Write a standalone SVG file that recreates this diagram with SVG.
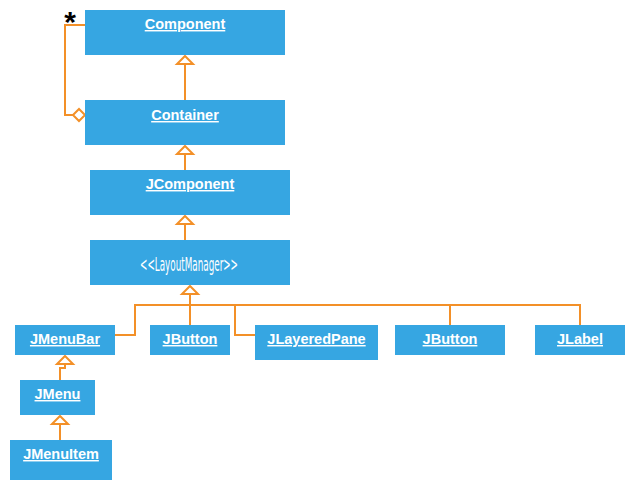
<svg xmlns="http://www.w3.org/2000/svg" width="634" height="490" viewBox="0 0 634 490">
<defs>
<style>
.box{fill:#36A6E2;}
.lbl{font-family:"Liberation Sans",Arial,sans-serif;font-weight:bold;font-size:14.5px;fill:#fff;text-decoration:underline;text-anchor:middle;}
.stereo{font-family:"Liberation Sans Narrow","DejaVu Sans Condensed",sans-serif;font-size:19px;fill:#fff;text-anchor:middle;}
.ln{fill:none;stroke:#F39028;stroke-width:2;}
.tri{fill:#fff;stroke:#F39028;stroke-width:2;}
</style>
</defs>
<rect width="634" height="490" fill="#fff"/>
<g id="connectors">
<path class="ln" d="M85,25 H65 V115 H73"/>
<path class="tri" d="M73,115 L79,109 L85,115 L79,121 Z"/>
<path class="ln" d="M185,100 V64"/>
<path class="tri" d="M185,56 L193,64 H177 Z"/>
<path class="ln" d="M185,170 V154"/>
<path class="tri" d="M185,146 L193,154 H177 Z"/>
<path class="ln" d="M185,240 V224"/>
<path class="tri" d="M185,216 L193,224 H177 Z"/>
<path class="ln" d="M190,325 V294"/>
<path class="tri" d="M190,286 L198,294 H182 Z"/>
<path class="ln" d="M115,335 H135 V305 H580 V325"/>
<path class="ln" d="M235,305 V335 H255"/>
<path class="ln" d="M450,305 V325"/>
<path class="ln" d="M60,380 V368 H65 V364"/>
<path class="tri" d="M65,356 L73,364 H57 Z"/>
<path class="ln" d="M60,440 V424"/>
<path class="tri" d="M60,416 L68,424 H52 Z"/>
<text x="70" y="31.5" font-family="Liberation Sans,Arial,sans-serif" font-weight="bold" font-size="30" text-anchor="middle" fill="#000">*</text>
</g>
<g id="component"><rect class="box" x="85" y="10" width="200" height="45"/><text class="lbl" x="185" y="29">Component</text></g>
<g id="container"><rect class="box" x="85" y="100" width="200" height="45"/><text class="lbl" x="185" y="120">Container</text></g>
<g id="jcomponent"><rect class="box" x="90" y="170" width="200" height="45"/><text class="lbl" x="190" y="189">JComponent</text></g>
<g id="layoutmanager"><rect class="box" x="90" y="240" width="200" height="45"/><text class="stereo" x="189" y="270.5" textLength="98" lengthAdjust="spacingAndGlyphs">&lt;&lt;LayoutManager&gt;&gt;</text></g>
<g id="jmenubar"><rect class="box" x="15" y="325" width="100" height="30"/><text class="lbl" x="65" y="344">JMenuBar</text></g>
<g id="jbutton1"><rect class="box" x="150" y="325" width="80" height="30"/><text class="lbl" x="190" y="344">JButton</text></g>
<g id="jlayeredpane"><rect class="box" x="255" y="325" width="123" height="35"/><text class="lbl" x="316.5" y="344">JLayeredPane</text></g>
<g id="jbutton2"><rect class="box" x="395" y="325" width="110" height="30"/><text class="lbl" x="450" y="344">JButton</text></g>
<g id="jlabel"><rect class="box" x="535" y="325" width="90" height="30"/><text class="lbl" x="580" y="344">JLabel</text></g>
<g id="jmenu"><rect class="box" x="20" y="380" width="75" height="35"/><text class="lbl" x="57.5" y="399">JMenu</text></g>
<g id="jmenuitem"><rect class="box" x="10" y="440" width="102" height="40"/><text class="lbl" x="61" y="459">JMenuItem</text></g>
</svg>
